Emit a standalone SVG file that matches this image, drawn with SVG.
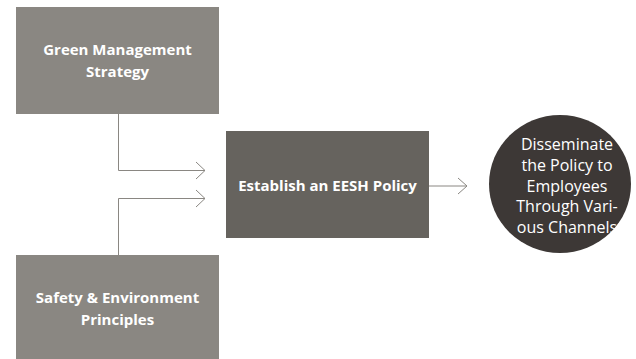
<svg xmlns="http://www.w3.org/2000/svg" width="636" height="359" viewBox="0 0 636 359">
<style>
.box{fill:#8a8782}
.mid{fill:#66635e}
.circ{fill:#3d3836}
.lbl{font-family:"Open Sans","Noto Sans","Liberation Sans",sans-serif;font-size:15px;font-weight:bold;fill:#ffffff;text-anchor:middle}
.ctxt{font-family:"Open Sans","Noto Sans","Liberation Sans",sans-serif;font-size:16px;fill:#ffffff;text-anchor:middle}
.con{fill:none;stroke:#8a8782;stroke-width:1}
</style>
<g id="green">
<rect class="box" x="16" y="7" width="203" height="107"/>
<text class="lbl" x="117.5" y="55">Green Management</text>
<text class="lbl" x="117.5" y="77">Strategy</text>
</g>
<g id="safety">
<rect class="box" x="16" y="255" width="203" height="104"/>
<text class="lbl" x="117.5" y="303">Safety &amp; Environment</text>
<text class="lbl" x="117.5" y="325">Principles</text>
</g>
<g id="policy">
<rect class="mid" x="226" y="131" width="203" height="107"/>
<text class="lbl" x="327.5" y="191">Establish an EESH Policy</text>
</g>
<g id="disseminate">
<ellipse class="circ" cx="560" cy="184" rx="71" ry="69"/>
<text class="ctxt" x="567" y="150">Disseminate</text>
<text class="ctxt" x="567" y="171">the Policy to</text>
<text class="ctxt" x="567" y="192">Employees</text>
<text class="ctxt" x="567" y="212">Through Vari-</text>
<text class="ctxt" x="567" y="233">ous Channels</text>
</g>
<g id="connectors">
<path class="con" d="M118.5 114 V170.5 H205"/>
<path class="con" d="M196 162 L205 170.5 L196 179"/>
<path class="con" d="M118.5 255 V198.5 H205"/>
<path class="con" d="M196 190 L205 198.5 L196 207"/>
<path class="con" d="M429 186 H467"/>
<path class="con" d="M458 178 L467 186 L458 194"/>
</g>
</svg>
